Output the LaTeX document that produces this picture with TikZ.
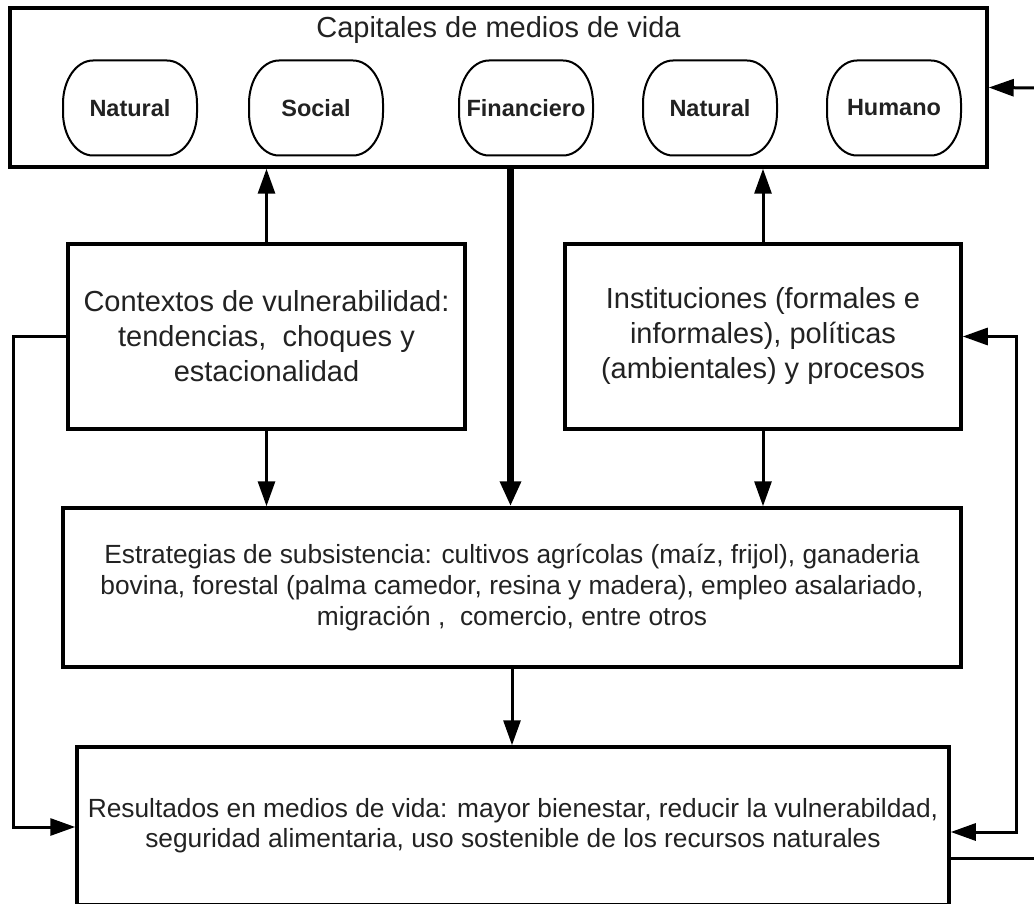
\documentclass[tikz,border=0pt]{standalone}
\usepackage{fontspec}
\setmainfont{Liberation Sans}
\usetikzlibrary{arrows.meta}
\definecolor{txt}{RGB}{34,34,34}
\tikzset{
  box/.style={draw=black, line width=3.5pt, fill=none, inner sep=0pt, align=center, text=txt},
  pillnode/.style={inner sep=0pt, outer sep=0pt, minimum width=134pt, minimum height=95pt, text=txt, font=\fontsize{23.5}{28}\selectfont\bfseries},
  pillline/.style={draw=black, line width=2pt},
  arr/.style={draw=black, line width=3pt, -{Triangle[length=25pt,width=17pt]}},
  dblarr/.style={draw=black, line width=3pt, {Triangle[length=25pt,width=17pt]}-{Triangle[length=25pt,width=17pt]}},
  thickarr/.style={draw=black, line width=6.5pt, -{Triangle[length=25pt,width=20pt]}},
  plainline/.style={draw=black, line width=3pt},
  bigtext/.style={font=\fontsize{29}{35}\selectfont},
  smalltext/.style={font=\fontsize{26.3}{31.2}\selectfont}
}
\newcommand{\pillshape}[1]{%
  \draw[pillline] ([xshift=30pt]#1.north west) -- ([xshift=-30pt]#1.north east)
    arc[start angle=90, end angle=0, x radius=30pt, y radius=43pt]
    -- ([yshift=43pt]#1.south east)
    arc[start angle=0, end angle=-90, x radius=30pt, y radius=43pt]
    -- ([xshift=30pt]#1.south west)
    arc[start angle=270, end angle=180, x radius=30pt, y radius=43pt]
    -- ([yshift=-43pt]#1.north west)
    arc[start angle=180, end angle=90, x radius=30pt, y radius=43pt]
    -- cycle;}
\begin{document}
\begin{tikzpicture}[x=1pt,y=1pt]
\useasboundingbox (0,0) rectangle (1034,-904);
\clip (0,0) rectangle (1034,-904);
\fill[white] (0,0) rectangle (1034,-904);

% top box
\node[box, minimum width=977pt, minimum height=159pt] (top) at (498.5,-87.5) {};
\node[bigtext, text=txt, inner sep=0pt] (title) at (498.5,-30) {Capitales de medios de vida};

% pills
\node[pillnode] (p1) at (130,-108) {Natural};
\node[pillnode] (p2) at (316,-108) {Social};
\node[pillnode] (p3) at (526,-108) {Financiero};
\node[pillnode] (p4) at (710,-108) {Natural};
\node[pillnode] (p5) at (894,-108) {Humano};
\pillshape{p1}\pillshape{p2}\pillshape{p3}\pillshape{p4}\pillshape{p5}

% middle boxes
\node[box, bigtext, minimum width=397pt, minimum height=185pt] (ctx) at (266.5,-336.5)
  {Contextos de vulnerabilidad:\\tendencias,\ \ choques y\\estacionalidad};
\node[box, bigtext, minimum width=396pt, minimum height=185pt] (inst) at (763,-336.5)
  {Instituciones (formales e\\informales), políticas\\(ambientales) y procesos};

\node[box, smalltext, minimum width=898pt, minimum height=159pt] (est) at (512,-587.5)
  {Estrategias de subsistencia: cultivos agrícolas (maíz, frijol), ganaderia\\bovina, forestal (palma camedor, resina y madera), empleo asalariado,\\migración ,\ \ comercio, entre otros};

\node[box, font=\fontsize{26.3}{30}\selectfont, minimum width=872pt, minimum height=158pt] (res) at (513,-826)
  {Resultados en medios de vida: mayor bienestar, reducir la vulnerabildad,\\seguridad alimentaria, uso sostenible de los recursos naturales};

% helper coordinates
\coordinate (lx) at (13,0);
\coordinate (rx) at (1016,0);
\coordinate (outR) at (1040,-858);
\coordinate (inR) at (1040,-88);

% connectors
\draw[arr] (ctx.north) -- (ctx.north |- top.south);
\draw[arr] (inst.north) -- (inst.north |- top.south);
\draw[thickarr] ([xshift=-1.5pt]est.north |- top.south) -- ([xshift=-1.5pt]est.north);
\draw[arr] (ctx.south) -- (ctx.south |- est.north);
\draw[arr] (inst.south) -- (inst.south |- est.north);
\draw[arr] (est.south) -- (est.south |- res.north);
\draw[arr] (ctx.west) -- (lx |- ctx.west) -- (lx |- 0,-827) -- ([yshift=-1pt]res.west);
\draw[dblarr] (inst.east) -- (rx |- inst.east) -- (rx |- 0,-832) -- ([yshift=-6pt]res.east);
\draw[plainline] ([yshift=-32pt]res.east) -- (outR);
\draw[arr] (inR) -- (top.east);
\end{tikzpicture}
\end{document}
